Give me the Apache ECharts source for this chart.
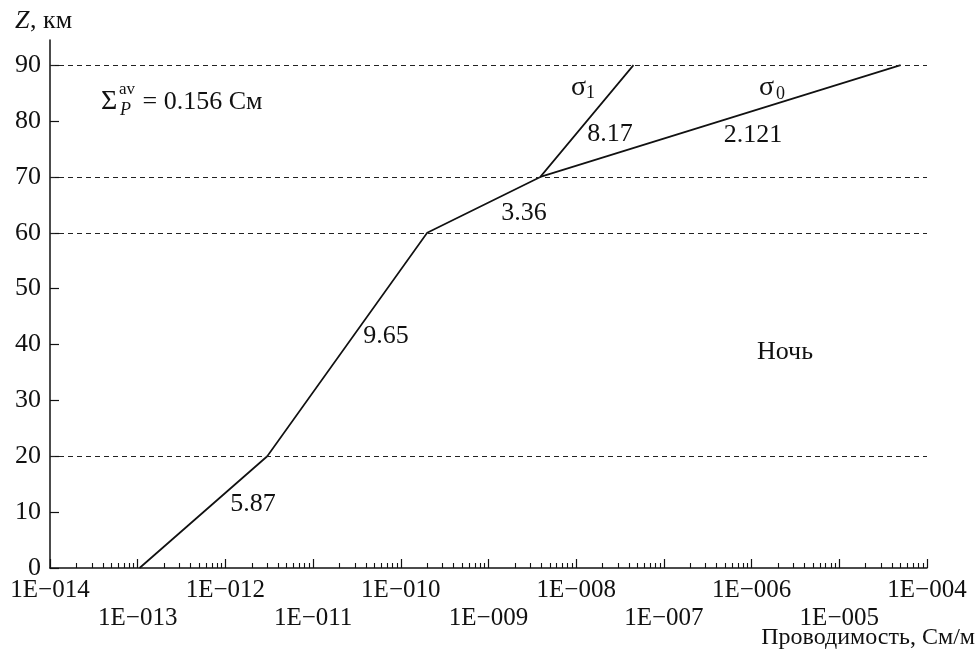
<!DOCTYPE html>
<html><head><meta charset="utf-8">
<script src="https://cdn.jsdelivr.net/npm/echarts@6/dist/echarts.min.js"></script>
<style>html,body{margin:0;padding:0;background:#fff}#c{width:978px;height:656px}</style>
</head><body><div id="c"></div>
<script>
// sigma1 branch: conductivity (S/m) vs altitude (km)
const sigma1X = [1.05e-13, 3.0e-12, 2.0e-10, 3.9e-9, 4.5e-8];
const sigma1Z = [0, 20, 60, 70, 90];
// sigma0 branch above 70 km
const sigma0X = [3.9e-9, 5.0e-5];
const sigma0Z = [70, 90];
// dashed reference levels
const gridLevels = [20, 60, 70, 90];
// axis ticks
const yTicks = [0, 10, 20, 30, 40, 50, 60, 70, 80, 90];
const xDecades = [-14, -13, -12, -11, -10, -9, -8, -7, -6, -5, -4];
const minorMult = [2, 3, 4, 5, 6, 7, 8, 9];

const FONT = '"Liberation Serif", "Times New Roman", serif';
const minorExps = [];
xDecades.slice(0, -1).forEach(e => minorMult.forEach(m => minorExps.push(e + Math.log10(m))));

function xLabel(v) {
  const e = Math.round(v);
  const s = '1E\u2212' + String(-e).padStart(3, '0');
  return (Math.abs(e) % 2 === 1) ? '\n' + s : s;
}

const chart = echarts.init(document.getElementById('c'), null, {renderer: 'canvas'});
const txt = (text, x, y, size, opts) => Object.assign({
  type: 'text', silent: true,
  style: Object.assign({text, x, y, fontSize: size, fontFamily: FONT, fill: '#111',
    textAlign: 'center', textVerticalAlign: 'middle'}, opts || {})
});

chart.setOption({
  animation: false,
  backgroundColor: '#fff',
  grid: {left: 50, right: 51, top: 40, bottom: 88, containLabel: false, outerBoundsMode: 'none'},
  xAxis: [{
    type: 'log', logBase: 10, min: 1e-14, max: 1e-4, splitNumber: 10,
    position: 'bottom',
    axisLine: {show: true, lineStyle: {color: '#111', width: 1.5}},
    axisTick: {show: false},
    minorTick: {show: false},
    splitLine: {show: false},
    axisLabel: {show: false}
  }, {
    // decade ticks and labels, on the exponent scale of the log axis above
    type: 'value', min: -14, max: -4, interval: 1, position: 'bottom',
    axisLine: {show: false},
    splitLine: {show: false},
    axisTick: {show: true, inside: true, length: 9, customValues: xDecades,
      lineStyle: {color: '#111', width: 1.2}},
    axisLabel: {show: true, customValues: xDecades, formatter: xLabel, color: '#111',
      fontFamily: FONT, fontSize: 25, lineHeight: 28, margin: 8, hideOverlap: false}
  }, {
    type: 'value', min: -14, max: -4, interval: 1, position: 'bottom',
    axisLine: {show: false},
    axisLabel: {show: false},
    splitLine: {show: false},
    axisTick: {show: true, inside: true, length: 5, customValues: minorExps,
      lineStyle: {color: '#111', width: 1.1}}
  }],
  yAxis: {
    type: 'value', min: 0, max: 94.5, interval: 10,
    axisLine: {show: true, lineStyle: {color: '#111', width: 1.5}},
    axisTick: {show: true, inside: true, length: 9, customValues: yTicks,
      lineStyle: {color: '#111', width: 1.2}},
    splitLine: {show: false},
    axisLabel: {customValues: yTicks, color: '#111', fontFamily: FONT, fontSize: 26, margin: 9}
  },
  series: [{
    type: 'line', name: 'σ1', xAxisIndex: 0,
    data: sigma1X.map((x, i) => [x, sigma1Z[i]]),
    symbol: 'none', lineStyle: {color: '#111', width: 1.7},
    markLine: {
      symbol: 'none', silent: true, label: {show: false},
      lineStyle: {type: [5, 4], color: '#222', width: 1},
      data: gridLevels.map(v => ({yAxis: v}))
    }
  }, {
    type: 'line', name: 'σ0', xAxisIndex: 0,
    data: sigma0X.map((x, i) => [x, sigma0Z[i]]),
    symbol: 'none', lineStyle: {color: '#111', width: 1.7}
  }],
  graphic: [
    txt('Z', 15, 21, 26, {textAlign: 'left', fontStyle: 'italic'}),
    txt(', км', 30, 21, 26, {textAlign: 'left'}),
    txt('Σ', 101, 102, 28, {textAlign: 'left'}),
    txt('av', 119, 90, 17, {textAlign: 'left'}),
    txt('P', 120, 110, 18, {textAlign: 'left', fontStyle: 'italic'}),
    txt(' = 0.156 См', 136, 102, 26, {textAlign: 'left'}),
    txt('σ', 571, 88, 28, {textAlign: 'left'}),
    txt('1', 586, 93, 18, {textAlign: 'left'}),
    txt('σ', 759, 88, 28, {textAlign: 'left'}),
    txt('0', 776, 94, 18, {textAlign: 'left'}),
    txt('8.17', 610, 134, 26),
    txt('2.121', 753, 135, 26),
    txt('3.36', 524, 213, 26),
    txt('9.65', 386, 336, 26),
    txt('5.87', 253, 504, 26),
    txt('Ночь', 785, 352, 26),
    txt('Проводимость, См/м', 975, 638, 24, {textAlign: 'right'})
  ]
});
</script></body></html>
